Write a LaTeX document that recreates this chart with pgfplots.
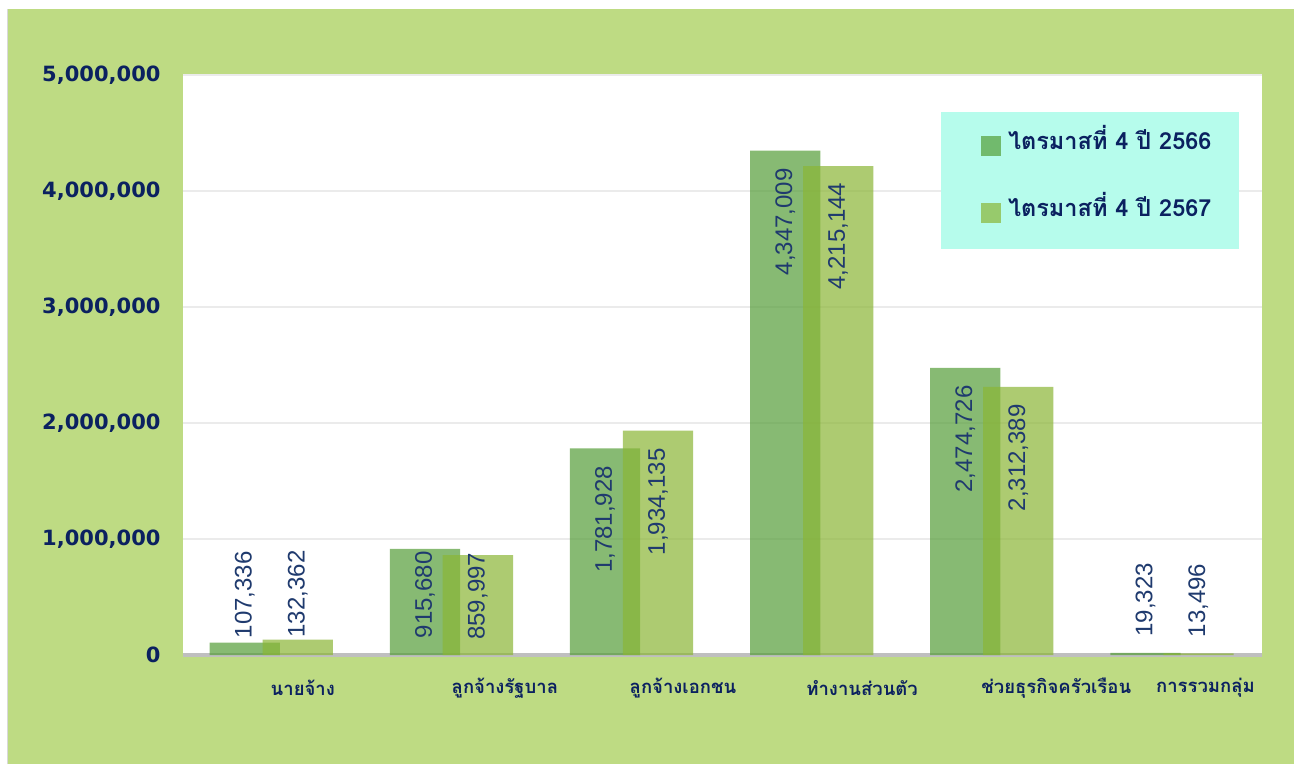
\documentclass[border=0pt]{standalone}
\usepackage{fontspec}
\usepackage{pgfplots}
\usepackage{pgfplotstable}
\pgfplotsset{compat=1.18}
\setmainfont{DejaVu Sans}
\newfontfamily\thaifont[Script=Thai]{Loma}
\newfontfamily\labfont{Liberation Sans}
\definecolor{bgout}{HTML}{BEDB83}
\definecolor{navy}{HTML}{0B2160}
\definecolor{labnavy}{HTML}{1F3A6E}
\definecolor{barA}{HTML}{559E38}
\definecolor{barB}{HTML}{8BB636}
\definecolor{legbg}{HTML}{B6FCEC}
\definecolor{gridc}{HTML}{EBEBEB}
\definecolor{axisc}{HTML}{BFBFBF}
% label inside the bar (top of text #1 pt below the bar end) / above it
\protected\def\lin#1#2{\hbox to 0pt{\hss#2\hskip#1pt}}
\protected\def\lout#1#2{\hbox to 0pt{\hskip#1pt#2\hss}}

\pgfplotstableread{
x y lab
0 107336 {\lout{5}{107,336}}
1 915680 {\lin{2}{915,680}}
2 1781928 {\lin{17}{1,781,928}}
3 4347009 {\lin{17}{4,347,009}}
4 2474726 {\lin{17}{2,474,726}}
5 19323 {\lout{17}{19,323}}
}\dataA
\pgfplotstableread{
x y lab
0 132362 {\lout{3}{132,362}}
1 859997 {\lin{-3}{859,997}}
2 1934135 {\lin{17}{1,934,135}}
3 4215144 {\lin{16}{4,215,144}}
4 2312389 {\lin{17}{2,312,389}}
5 13496 {\lout{17}{13,496}}
}\dataB

\begin{document}
\begin{tikzpicture}
\useasboundingbox (0pt,0pt) rectangle (1294pt,764pt);
\fill[white] (0pt,0pt) rectangle (1294pt,764pt);
\fill[bgout] (8pt,0pt) rectangle (1294pt,755pt);
\draw[black!15, line width=1pt] (7.5pt,0pt) -- (7.5pt,755pt);
\begin{axis}[
  at={(183pt,109pt)}, anchor=south west,
  scale only axis, width=1079pt, height=580pt,
  xmin=-0.49, xmax=5.5, ymin=0, ymax=5000000,
  axis background/.style={fill=white},
  ybar, bar width=0.39,
  ytick={0,1000000,2000000,3000000,4000000,5000000},
  scaled y ticks=false,
  /pgf/number format/assume math mode=true,
  /pgf/number format/fixed,
  /pgf/number format/1000 sep={,},
  ymajorgrids, major grid style={gridc, line width=1.5pt},
  xtick={0.175,1.297,2.286,3.28,4.358,5.186},
  xticklabels={นายจ้าง, ลูกจ้างรัฐบาล, ลูกจ้างเอกชน, ทำงานส่วนตัว, ช่วยธุรกิจครัวเรือน, การรวมกลุ่ม},
  major tick length=0pt,
  axis x line*=bottom, axis y line*=left,
  x axis line style={axisc, line width=4pt, -},
  y axis line style={draw=none},
  xticklabel style={font=\thaifont\bfseries\fontsize{18.5}{18.5}\selectfont, text=navy, anchor=center, yshift=-33pt},
  yticklabel style={font=\bfseries\fontsize{21}{21}\selectfont, text=navy, xshift=-19pt},
  clip=false,
  legend style={at={(0.7396,0.9138)}, anchor=north west, fill=none, draw=none,
     inner sep=0pt, outer sep=0pt, row sep=35.5pt, column sep=0pt,
     cells={anchor=base west},
     font=\thaifont\bfseries\fontsize{23.5}{23.5}\selectfont, text=navy,
     nodes={inner sep=0pt, text height=25pt, text depth=5pt}},
  legend image code/.code={\fill[#1] (0pt,-6.5pt) rectangle (20pt,13.5pt);},
  point meta=explicit symbolic,
  nodes near coords={\pgfplotspointmeta},
  every node near coord/.append style={rotate=90, anchor=east, inner sep=0pt,
       fill opacity=1, text opacity=1,
       font=\labfont\fontsize{24}{24}\selectfont, text=labnavy},
]
\fill[legbg] (rel axis cs:0.7025,0.7) rectangle (rel axis cs:0.9787,0.9362);
\addplot[fill=barA, draw=none, fill opacity=0.7, bar shift=-0.147]
  table[x=x, y=y, meta=lab] {\dataA};
\addplot[fill=barB, draw=none, fill opacity=0.7, bar shift=0.147]
  table[x=x, y=y, meta=lab] {\dataB};
\legend{\hspace*{7pt}ไตรมาสที่ 4 ปี 2566, \hspace*{7pt}ไตรมาสที่ 4 ปี 2567}
\end{axis}
\end{tikzpicture}
\end{document}
